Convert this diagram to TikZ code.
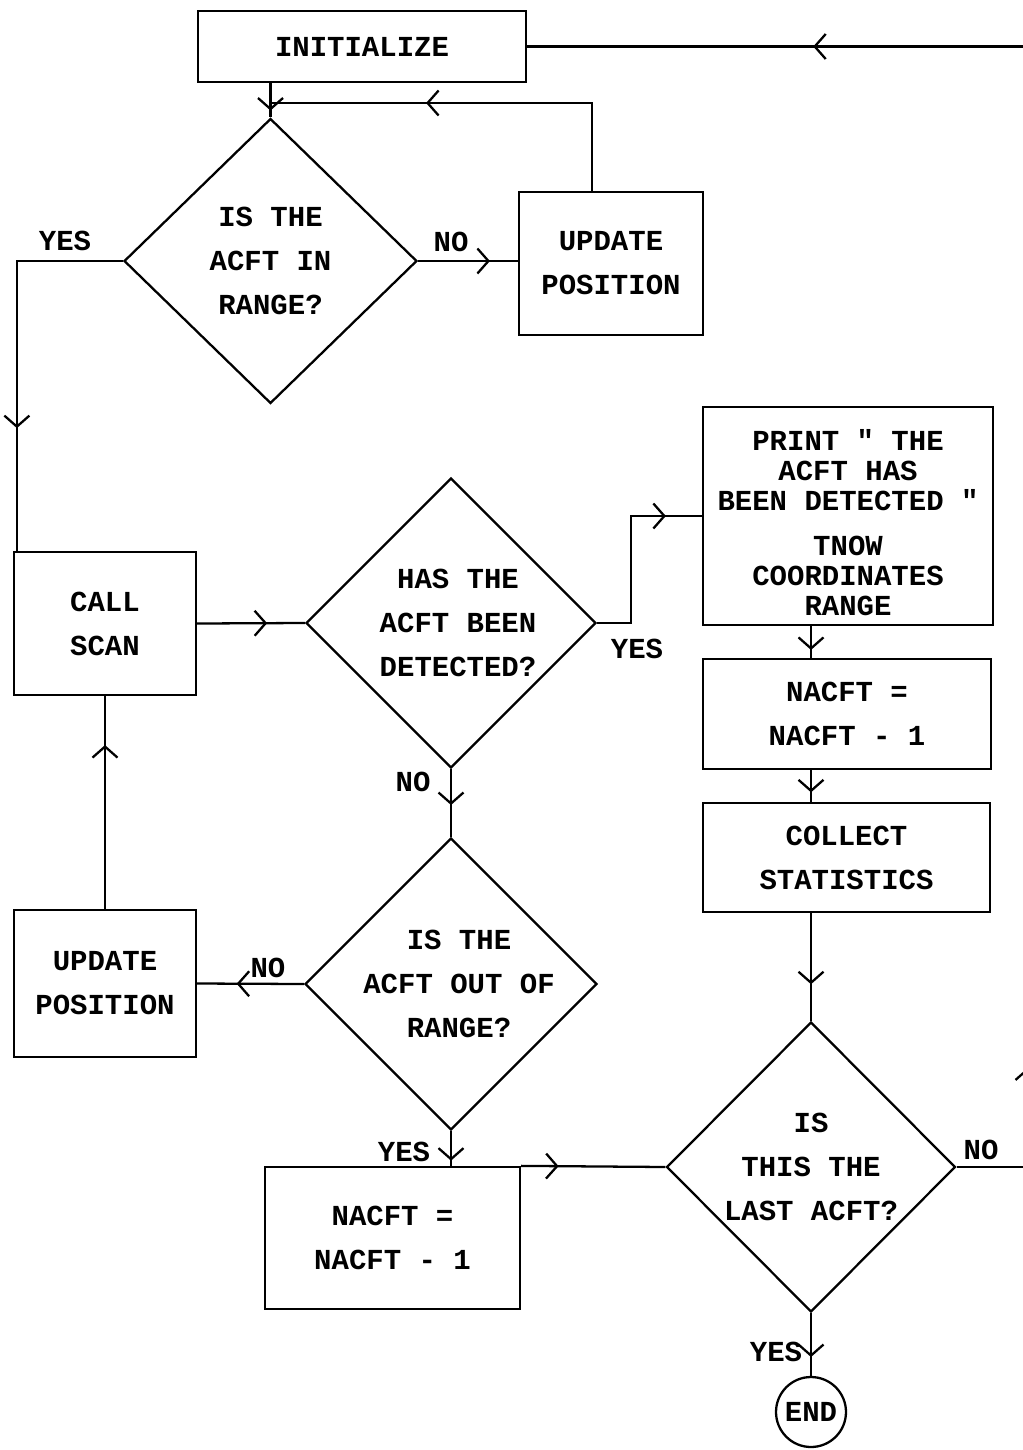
\documentclass[tikz,border=0pt]{standalone}
\usepackage{fontspec}
\setmonofont{Liberation Mono}
\usetikzlibrary{shapes.geometric,arrows.meta,decorations.markings,calc}
\begin{document}
\begin{tikzpicture}[x=0.02cm,y=-0.02cm,line width=1.3pt,
        >={Straight Barb[length=2.2mm,width=5mm]},
        every node/.style={font=\ttfamily\bfseries\fontsize{16.5}{25}\selectfont},
        box/.style={draw,rectangle,align=center,inner sep=0pt},
        dia/.style={draw,diamond,inner sep=0pt},
        arr/.style={postaction={decorate,decoration={markings,mark=at position #1 with {\arrow{>}}}}}]
        \useasboundingbox (0,0) rectangle (1023,1450);
        \clip (0,0) rectangle (1023,1450);
        \node[box,minimum width=6.56cm,minimum height=1.42cm] (init) at (362,46.5) {INITIALIZE};
        \node[dia,minimum width=5.86cm,minimum height=5.7cm,label={[align=center]center:{IS THE\\ACFT IN\\RANGE?}}] (q1) at (270.5,261) {};
        \node[box,minimum width=3.68cm,minimum height=2.86cm] (upd1) at (611,263.5) {UPDATE\\POSITION};
        \node[box,minimum width=3.64cm,minimum height=2.86cm] (scan) at (105,623.5) {CALL\\SCAN};
        \node[dia,minimum width=5.8cm,minimum height=5.8cm,label={[align=center,xshift=0.14cm]center:{HAS THE\\ACFT BEEN\\DETECTED?}}] (q2) at (451,623) {};
        \node[box,minimum width=5.8cm,minimum height=4.36cm,label={[align=center,yshift=-0.13cm,font=\ttfamily\bfseries\fontsize{16.5}{17}\selectfont]center:{PRINT " THE\\ACFT HAS\\BEEN DETECTED "\\[0.3cm]TNOW\\COORDINATES\\RANGE}}] (print) at (848,516) {};
        \node[box,minimum width=5.76cm,minimum height=2.2cm] (dec2) at (847,714) {NACFT =\\NACFT - 1};
        \node[box,minimum width=5.74cm,minimum height=2.18cm] (stats) at (846.5,857.5) {COLLECT\\STATISTICS};
        \node[dia,minimum width=5.84cm,minimum height=5.84cm,label={[align=center,xshift=0.16cm]center:{IS THE\\ACFT OUT OF\\RANGE?}}] (q3) at (451,984) {};
        \node[box,minimum width=3.64cm,minimum height=2.94cm] (upd2) at (105,983.5) {UPDATE\\POSITION};
        \node[box,minimum width=5.1cm,minimum height=2.84cm] (dec1) at (392.5,1238) {NACFT =\\NACFT - 1};
        \node[dia,minimum width=5.78cm,minimum height=5.8cm,label={[align=center]center:{IS\\THIS THE\\LAST ACFT?}}] (q4) at (811,1167) {};
        \node[draw,circle,minimum size=1.4cm,inner sep=0pt] (stop) at (811,1412) {END};
        \coordinate (j1) at (270.5,103);
        \node (yes1) at (65,241) {YES};
        \node (no1) at (451,242) {NO};
        \node (yes2) at (637,649) {YES};
        \node (no2) at (413,782) {NO};
        \node (no3) at (268,968) {NO};
        \node (yes3) at (404,1152) {YES};
        \node (no4) at (981,1150) {NO};
        \node (yes4) at (776,1352) {YES};
        \draw[arr=0.8] (init.south -| q1.north) -- (q1.north);
        \draw[arr=0.62] ($(upd1.north)+(-19,0)$) |- (j1);
        \draw[arr=0.69] (q1.west) -| ($(scan.north west)+(4,0)$);
        \draw[arr=0.72] (q1.east) -- (q1.east -| upd1.west);
        \draw[arr=0.65] (scan.east) -- (q2.west);
        \draw[arr=0.83] (q2.east) -- ++(34,0) |- (print.west);
        \draw[arr=0.75] (print.south -| q4.north) -- (dec2.north -| q4.north);
        \draw[arr=0.7] (dec2.south -| q4.north) -- (stats.north -| q4.north);
        \draw[arr=0.66] (stats.south -| q4.north) -- (q4.north);
        \draw[arr=0.7] (q4.south) -- (stop.north);
        \draw[arr=0.53] (q2.south) -- (q3.north);
        \draw[arr=0.63] (q3.west) -- (upd2.east);
        \draw[arr=0.77] (upd2.north) -- (scan.south);
        \draw[arr=0.85] (q3.south) -- (q3.south |- dec1.north);
        \draw[arr=0.26] (dec1.north east) -- (q4.west);
        \draw[arr=0.101,arr=0.831] (q4.east) -- (1028,1167) |- (init.east);
\end{tikzpicture}
\end{document}
